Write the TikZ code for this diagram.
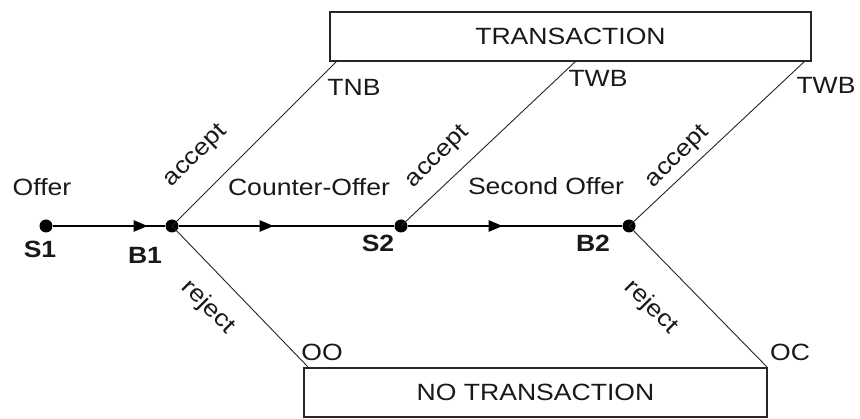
\documentclass[tikz,border=0pt]{standalone}
\usepackage{fontspec}
\setmainfont[FakeStretch=1.13]{Liberation Sans}
\usetikzlibrary{arrows.meta,decorations.markings}
\begin{document}
\begin{tikzpicture}[x=1pt,y=-1pt,
  every node/.style={font=\fontsize{23.5}{27}\selectfont, text=black!90, inner sep=0pt},
  dot/.style={circle, fill=black, minimum size=13pt},
  boxnode/.style={draw=black!85, line width=1.4pt, rectangle, minimum height=49pt},
  mainline/.style={line width=2.4pt, postaction=decorate,
    decoration={markings, mark=at position 95pt with {\arrow{Triangle[length=14pt,width=11pt]}}}},
  branch/.style={line width=0.9pt, black!85},
  lbl/.style={anchor=center},
  bold/.style={font=\fontsize{23.5}{27}\selectfont\bfseries}]
\useasboundingbox (0,0) rectangle (860,419);
\fill[white] (0,0) rectangle (860,419);

% boxes
\node[boxnode, minimum width=481pt] (T) at (570.5,36.5) {TRANSACTION};
\node[boxnode, minimum width=463pt] (NT) at (535.5,392.5) {NO TRANSACTION};

% decision points
\node[dot] (S1) at (46,226) {};
\node[dot] (B1) at (172,226) {};
\node[dot] (S2) at (401,226) {};
\node[dot] (B2) at (629,226) {};

% branch end points
\coordinate (tnb) at (337,61);
\coordinate (twb1) at (576,61);
\coordinate (twb2) at (805,61);
\coordinate (oo) at (308,367);
\coordinate (oc) at (767,367);

% branches
\draw[branch] (B1.center) -- (tnb);
\draw[branch] (S2.center) -- (twb1);
\draw[branch] (B2.center) -- (twb2);
\draw[branch] (B1.center) -- (oo);
\draw[branch] (B2.center) -- (oc);

% main line
\draw[mainline] (S1) -- (B1);
\draw[mainline] (B1) -- (S2);
\draw[mainline] (S2) -- (B2);

% labels
\node[lbl] (lOffer) at (42,187) {Offer};
\node[lbl] (lCO) at (309,187) {Counter-Offer};
\node[lbl] (lSO) at (546,186) {Second Offer};
\node[lbl, bold] (lS1) at (40,249) {S1};
\node[lbl, bold] (lB1) at (145,255) {B1};
\node[lbl, bold] (lS2) at (378,243) {S2};
\node[lbl, bold] (lB2) at (593,243) {B2};
\node[lbl, rotate=45] (la1) at (196,156) {accept};
\node[lbl, rotate=45] (la2) at (438,157) {accept};
\node[lbl, rotate=45] (la3) at (678,157) {accept};
\node[lbl, rotate=-45] (lr1) at (208,307) {reject};
\node[lbl, rotate=-45] (lr2) at (651,307) {reject};
\node[lbl] (lTNB) at (354,87) {TNB};
\node[lbl] (lTWB1) at (598,78) {TWB};
\node[lbl] (lTWB2) at (826,85) {TWB};
\node[lbl] (lOO) at (322,352) {OO};
\node[lbl] (lOC) at (790,352) {OC};
\end{tikzpicture}
\end{document}
